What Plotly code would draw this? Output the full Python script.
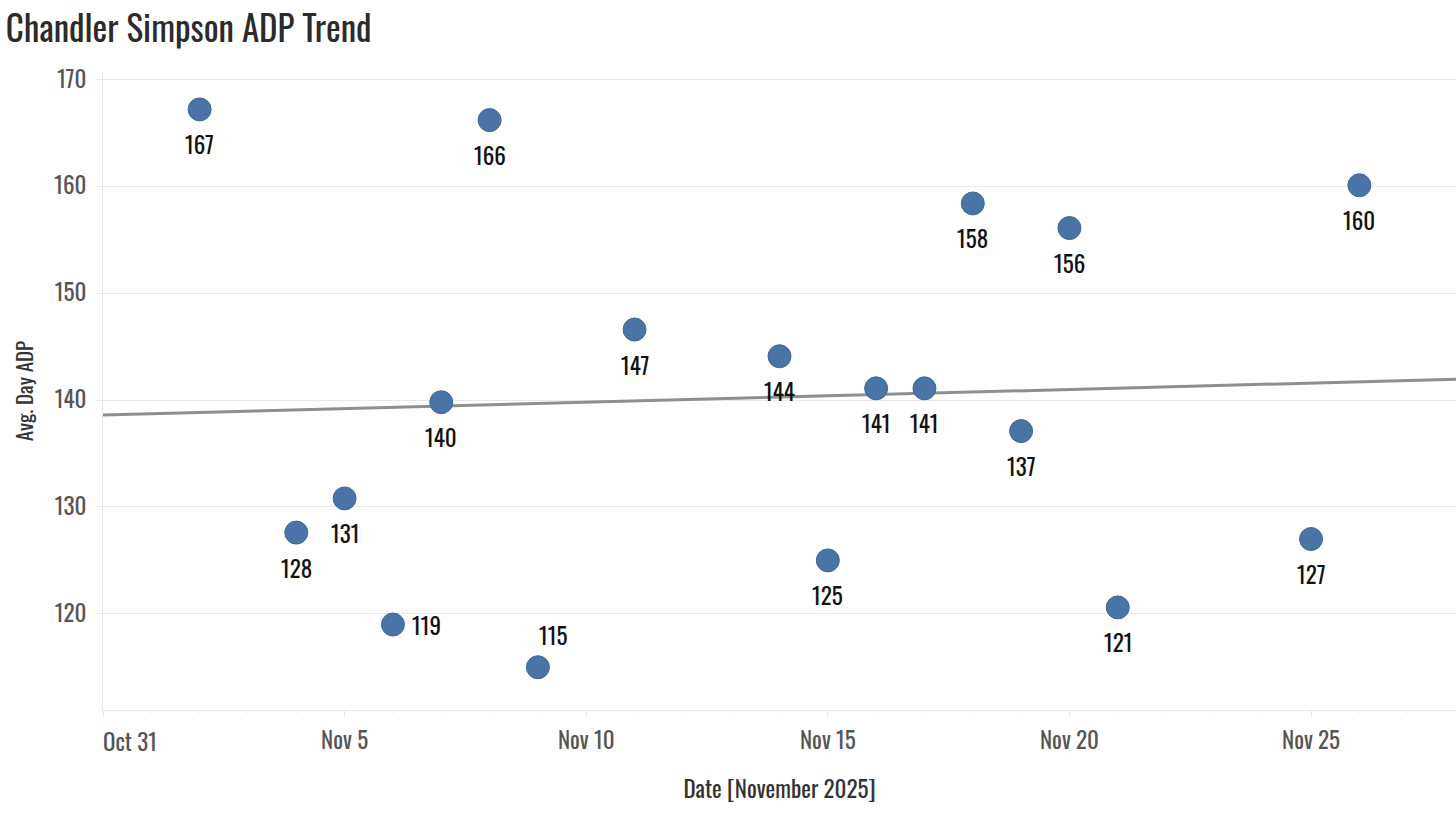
import numpy as np
import pandas as pd
import plotly.graph_objects as go

# ---- data ----
dates = ["2025-11-02", "2025-11-04", "2025-11-05", "2025-11-06", "2025-11-07",
         "2025-11-08", "2025-11-09", "2025-11-11", "2025-11-14", "2025-11-15",
         "2025-11-16", "2025-11-17", "2025-11-18", "2025-11-19", "2025-11-20",
         "2025-11-21", "2025-11-25", "2025-11-26"]
adp = [167.2, 127.6, 130.8, 119.0, 139.8, 166.2, 115.0, 146.6, 144.1, 125.0,
       141.1, 141.1, 158.4, 137.1, 156.1, 120.6, 127.0, 160.1]
labels = ["167", "128", "131", "119", "140", "166", "115", "147", "144", "125",
          "141", "141", "158", "137", "156", "121", "127", "160"]
trend_dates = ["2025-10-31", "2025-11-28"]
trend_values = [138.6, 141.95]
tick_dates = ["2025-10-31", "2025-11-05", "2025-11-10", "2025-11-15",
              "2025-11-20", "2025-11-25"]
tick_labels = ["Oct 31", "Nov 5", "Nov 10", "Nov 15", "Nov 20", "Nov 25"]

# ---- label placement (style) ----
label_shift = {3: (34, 0), 6: (15, 32)}
default_shift = (0, -35)

FONT = "Liberation Sans Narrow, Oswald, DejaVu Sans Condensed, sans-serif"

fig = go.Figure()
fig.add_trace(go.Scatter(
    x=pd.to_datetime(trend_dates), y=trend_values, mode="lines",
    line=dict(color="#8f8f8f", width=3), hoverinfo="skip", showlegend=False))
fig.add_trace(go.Scatter(
    x=pd.to_datetime(dates), y=adp, mode="markers",
    marker=dict(size=23, color="#4a74a6", line=dict(color="#3f6795", width=1)),
    showlegend=False))

for i, (d, v, t) in enumerate(zip(dates, adp, labels)):
    dx, dy = label_shift.get(i, default_shift)
    fig.add_annotation(x=pd.to_datetime(d), y=v, text=t, showarrow=False,
                       xshift=dx, yshift=dy,
                       font=dict(family=FONT, size=23, color="#111111"))

# first tick label is left-aligned to the axis start
fig.add_annotation(x=pd.to_datetime(tick_dates[0]), y=0, yref="paper",
                   text=tick_labels[0], showarrow=False, xanchor="left",
                   yanchor="middle", yshift=-31, xshift=-2,
                   font=dict(family=FONT, size=23, color="#555555"))

fig.update_layout(
    width=1456, height=818,
    margin=dict(l=103, r=0, t=72, b=108),
    paper_bgcolor="white", plot_bgcolor="white",
    font=dict(family=FONT, color="#555555"),
    title=dict(text="Chandler Simpson ADP Trend", x=0.004, xanchor="left",
               y=0.964, yanchor="middle",
               font=dict(family=FONT, size=35, color="#2b2b2b")),
    xaxis=dict(
        type="date", range=["2025-10-31", "2025-11-28"],
        tickvals=pd.to_datetime(tick_dates),
        ticktext=[""] + tick_labels[1:],
        showgrid=False, showline=True, linecolor="#e8e8e8", linewidth=1,
        ticks="outside", ticklen=6, tickcolor="#e6e6e6", ticklabelstandoff=4,
        minor=dict(dtick=86400000, ticks="outside", ticklen=3, tickcolor="#f0f0f0"),
        tickfont=dict(family=FONT, size=23, color="#555555"),
        title=dict(text="Date [November 2025]", standoff=27,
                   font=dict(family=FONT, size=23, color="#333333")),
        zeroline=False),
    yaxis=dict(
        range=[111.0, 170.7], tick0=120, dtick=10,
        showgrid=True, gridcolor="#e8e8e8", gridwidth=1,
        showline=True, linecolor="#e8e8e8", linewidth=1,
        ticks="outside", ticklen=7, tickcolor="#e8e8e8", ticklabelstandoff=4,
        tickfont=dict(family=FONT, size=23, color="#555555"),
        title=dict(text="Avg. Day ADP", standoff=14,
                   font=dict(family=FONT, size=21, color="#333333")),
        zeroline=False),
)

fig.write_html("out.html",
               config={"displayModeBar": False},
               post_script="document.body.style.margin='0';"
                           "document.body.style.overflow='hidden';")
